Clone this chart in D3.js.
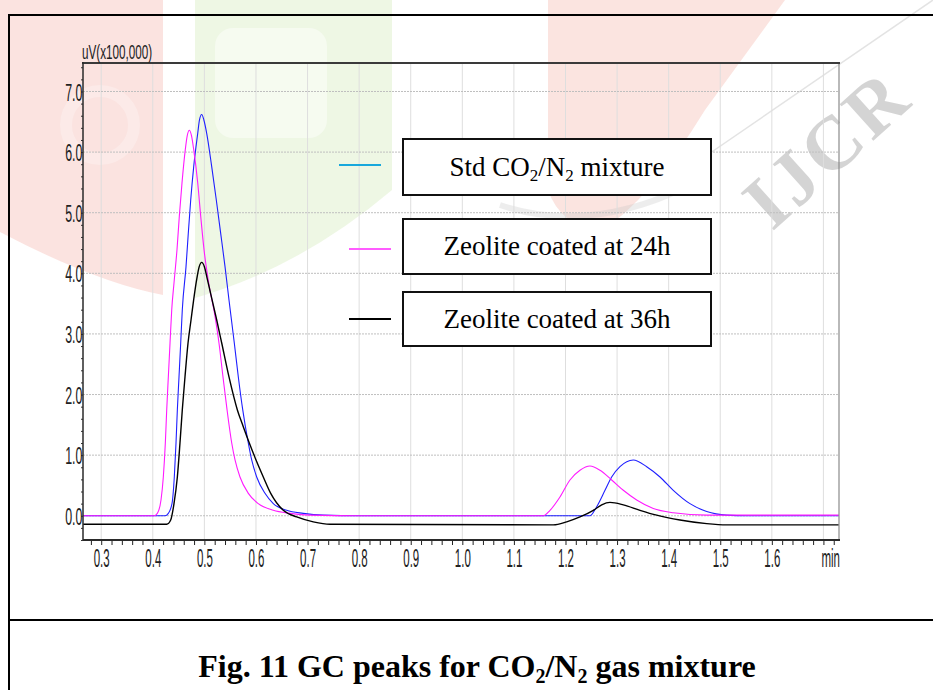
<!DOCTYPE html>
<html>
<head>
<meta charset="utf-8">
<script src="https://cdn.jsdelivr.net/npm/d3@7"></script>
<style>
  html, body { margin: 0; padding: 0; background: #fff; }
  svg { display: block; }
</style>
</head>
<body>
<svg id="chart" width="933" height="690"></svg>
<script>
// ---- Chromatogram data: retention time (min) vs detector signal (uV x100,000) ----
const stdTime   = [0.265, 0.4237, 0.4301, 0.4372, 0.4417, 0.4450, 0.4476, 0.4508, 0.4541, 0.4572,
                   0.4644, 0.4688, 0.4735, 0.4793, 0.4871, 0.4905, 0.4948, 0.4990, 0.5045, 0.5142,
                   0.5231, 0.5316, 0.5400, 0.5477, 0.5580, 0.5658, 0.5743, 0.5851, 0.5917, 0.6014,
                   0.6175, 0.6336, 0.6596, 0.6918, 0.7305, 0.800, 1.2475, 1.2605, 1.2766, 1.2895,
                   1.3056, 1.3314, 1.3574, 1.3832, 1.4090, 1.4413, 1.4737, 1.5125, 1.5512, 1.730];
const stdSignal = [0, 0, 0.04, 0.20, 0.64, 1.20, 1.75, 2.29, 2.85, 3.40,
                   4.11, 4.66, 5.21, 5.76, 6.31, 6.53, 6.62, 6.53, 6.31, 5.76,
                   5.21, 4.66, 4.11, 3.56, 2.85, 2.29, 1.75, 1.20, 0.92, 0.64,
                   0.37, 0.20, 0.09, 0.04, 0.01, 0, 0, 0.15, 0.42, 0.64,
                   0.81, 0.92, 0.81, 0.64, 0.42, 0.20, 0.07, 0.01, 0, 0];

const zeo24Time   = [0.265, 0.4023, 0.4088, 0.4159, 0.4204, 0.4243, 0.4270, 0.4301, 0.4334, 0.4367,
                     0.4411, 0.4469, 0.4514, 0.4566, 0.4630, 0.4668, 0.4708, 0.4750, 0.4793, 0.4871,
                     0.4929, 0.4993, 0.5084, 0.5202, 0.5283, 0.5361, 0.5439, 0.5530, 0.5594, 0.5690,
                     0.5852, 0.6045, 0.6336, 0.6660, 0.7047, 0.800, 1.1570, 1.1700, 1.1893, 1.2087,
                     1.2281, 1.2475, 1.2670, 1.2895, 1.3121, 1.3380, 1.3702, 1.4090, 1.4737, 1.730];
const zeo24Signal = [0, 0, 0.04, 0.26, 0.64, 1.20, 1.75, 2.29, 2.85, 3.40,
                     3.84, 4.39, 4.94, 5.49, 6.04, 6.27, 6.36, 6.27, 6.04, 5.49,
                     4.94, 4.39, 3.84, 3.31, 2.85, 2.29, 1.75, 1.20, 0.92, 0.64,
                     0.37, 0.20, 0.09, 0.04, 0.01, 0, 0, 0.09, 0.31, 0.59,
                     0.75, 0.82, 0.75, 0.59, 0.42, 0.26, 0.12, 0.05, 0.01, 0.01];

const zeo36Time   = [0.265, 0.4270, 0.4347, 0.4411, 0.4476, 0.4527, 0.4572, 0.4624, 0.4683, 0.4741,
                     0.4790, 0.4851, 0.4900, 0.4948, 0.5000, 0.5058, 0.5239, 0.5336, 0.5477, 0.5638,
                     0.5754, 0.5871, 0.6001, 0.6142, 0.6286, 0.6530, 0.6790, 0.7111, 0.7435, 1.1764,
                     1.2023, 1.2281, 1.2539, 1.2702, 1.2862, 1.3121, 1.3444, 1.3768, 1.4219, 1.4737,
                     1.5125, 1.730];
const zeo36Signal = [-0.14, -0.14, -0.07, 0.20, 0.64, 1.20, 1.75, 2.29, 2.85, 3.23,
                     3.55, 3.90, 4.11, 4.18, 4.11, 3.90, 3.23, 2.85, 2.29, 1.75,
                     1.47, 1.20, 0.92, 0.64, 0.37, 0.09, -0.02, -0.10, -0.14, -0.15,
                     -0.10, -0.02, 0.09, 0.18, 0.22, 0.18, 0.09, 0.01, -0.07, -0.13,
                     -0.15, -0.15];

const seriesNames = ["Std CO2/N2 mixture", "Zeolite coated at 24h", "Zeolite coated at 36h"];
const xTickValues = [0.3, 0.4, 0.5, 0.6, 0.7, 0.8, 0.9, 1.0, 1.1, 1.2, 1.3, 1.4, 1.5, 1.6];
const yTickValues = [0, 1, 2, 3, 4, 5, 6, 7];
const xUnitLabel = "min";
const yUnitLabel = "uV(x100,000)";
const captionText = "Fig. 11 GC peaks for CO2/N2 gas mixture";

// ---- Layout & style ----
const plot = { left: 83, right: 839, top: 63, bottom: 540 };
const curveColors  = ["#1f1fff", "#ff1aff", "#000000"];
const swatchColors = ["#18a8dc", "#ff5cff", "#000000"];
const sansFont = "'Liberation Sans', Arial, sans-serif";
const serifFont = "'Liberation Serif', 'Times New Roman', serif";

const svg = d3.select("#chart");

// ---- Faint journal watermark behind the figure ----
const wm = svg.append("g").attr("class", "watermark");
wm.append("path").attr("d", "M0,0 H163 V295 Q95,282 0,232 Z").attr("fill", "#f9d0cc").attr("opacity", 0.6);
wm.append("circle").attr("cx", 100).attr("cy", 125).attr("r", 34)
  .attr("fill", "none").attr("stroke", "#fff").attr("stroke-width", 12).attr("opacity", 0.25);
wm.append("path").attr("d", "M195,0 H392 V190 Q300,268 195,298 Z").attr("fill", "#e2f2d2").attr("opacity", 0.6);
wm.append("rect").attr("x", 215).attr("y", 28).attr("width", 112).attr("height", 110).attr("rx", 18)
  .attr("fill", "#fff").attr("opacity", 0.45);
wm.append("path").attr("d", "M548,0 H785 L705,110 Q650,200 600,232 Q560,225 548,190 Z").attr("fill", "#f9d2cb").attr("opacity", 0.6);
wm.append("path").attr("d", "M500,205 Q590,235 690,185")
  .attr("fill", "none").attr("stroke", "#c4c4c4").attr("stroke-width", 6).attr("opacity", 0.3);
wm.append("path").attr("d", "M700,160 L933,0")
  .attr("fill", "none").attr("stroke", "#b8b8b8").attr("stroke-width", 1.5).attr("opacity", 0.4);
wm.append("text").attr("transform", "translate(772,232) rotate(-42)")
  .attr("font-family", serifFont).attr("font-weight", "bold").attr("font-size", 76)
  .attr("letter-spacing", 4).attr("fill", "#ababab").attr("opacity", 0.5).text("IJCR");

// ---- Scales ----
const x = d3.scaleLinear().domain([0.2647, 1.7302]).range([plot.left, plot.right]);
const y = d3.scaleLinear().domain([-0.4, 7.47]).range([plot.bottom, plot.top]);

// ---- Grid ----
const gridX = d3.range(3, 18).map(v => v / 10);
svg.append("g").selectAll("line").data(gridX).join("line")
  .attr("x1", d => x(d)).attr("x2", d => x(d))
  .attr("y1", plot.top).attr("y2", plot.bottom)
  .attr("stroke", "#dedede").attr("stroke-width", 1);
svg.append("g").selectAll("line").data(yTickValues).join("line")
  .attr("x1", plot.left).attr("x2", plot.right)
  .attr("y1", d => y(d)).attr("y2", d => y(d))
  .attr("stroke", "#bfbfbf").attr("stroke-width", 1).attr("stroke-dasharray", "2,1");

// ---- Traces ----
const series = [
  { name: seriesNames[0], t: stdTime,   v: stdSignal },
  { name: seriesNames[1], t: zeo24Time, v: zeo24Signal },
  { name: seriesNames[2], t: zeo36Time, v: zeo36Signal }
];
const line = d3.line().x(d => x(d[0])).y(d => y(d[1])).curve(d3.curveMonotoneX);
svg.append("clipPath").attr("id", "plotclip").append("rect")
  .attr("x", plot.left).attr("y", plot.top)
  .attr("width", plot.right - plot.left).attr("height", plot.bottom - plot.top);
svg.append("g").attr("clip-path", "url(#plotclip)")
  .selectAll("path").data(series).join("path")
  .attr("d", s => line(d3.zip(s.t, s.v)))
  .attr("fill", "none")
  .attr("stroke", (s, i) => curveColors[i])
  .attr("stroke-width", (s, i) => i === 2 ? 1.4 : 1.1);

// ---- Frame ----
svg.append("line").attr("x1", plot.right).attr("x2", plot.right).attr("y1", plot.top).attr("y2", plot.bottom)
  .attr("stroke", "#8a8a8a").attr("stroke-width", 1.2);
svg.append("line").attr("x1", plot.left - 1).attr("x2", plot.right + 1).attr("y1", plot.top).attr("y2", plot.top)
  .attr("stroke", "#3a3a3a").attr("stroke-width", 2);

// ---- X axis ----
const minorX = d3.range(14, 87).map(v => v / 50);
const xMinor = svg.append("g").attr("transform", `translate(0,${plot.bottom})`)
  .call(d3.axisBottom(x).tickValues(minorX).tickSize(5).tickFormat(""));
xMinor.select(".domain").remove();
xMinor.selectAll("line").attr("stroke", "#222").attr("stroke-width", 1);

const xAxis = svg.append("g").attr("transform", `translate(0,${plot.bottom})`)
  .call(d3.axisBottom(x).tickValues(xTickValues).tickSize(0).tickPadding(0).tickFormat(d3.format(".1f")));
xAxis.select(".domain").remove();
xAxis.selectAll("text")
  .attr("y", 27).attr("dy", null)
  .attr("font-family", sansFont).attr("font-size", 25).attr("fill", "#222")
  .attr("transform", "scale(0.46,1)");
svg.append("line").attr("x1", plot.left).attr("x2", plot.right + 1).attr("y1", plot.bottom).attr("y2", plot.bottom)
  .attr("stroke", "#2a2a2a").attr("stroke-width", 2);
svg.append("text").attr("transform", `translate(${plot.right + 1},${plot.bottom + 27}) scale(0.46,1)`)
  .attr("text-anchor", "end").attr("font-family", sansFont).attr("font-size", 25).attr("fill", "#222")
  .text(xUnitLabel);

// ---- Y axis ----
const minorY = d3.range(-2, 38).map(v => v / 5);
const yMinor = svg.append("g").attr("transform", `translate(${plot.left},0)`)
  .call(d3.axisLeft(y).tickValues(minorY).tickSize(2).tickFormat(""));
yMinor.select(".domain").remove();
yMinor.selectAll("line").attr("stroke", "#333");

const yAxis = svg.append("g").attr("transform", `translate(${plot.left},0)`)
  .call(d3.axisLeft(y).tickValues(yTickValues).tickSize(0).tickPadding(1).tickFormat(d3.format(".1f")));
yAxis.select(".domain").remove();
yAxis.selectAll("text")
  .attr("dy", null).attr("y", 8.5)
  .attr("font-family", sansFont).attr("font-size", 23).attr("fill", "#222")
  .attr("transform", "scale(0.54,1)");
svg.append("line").attr("x1", plot.left).attr("x2", plot.left).attr("y1", plot.top - 1).attr("y2", plot.bottom)
  .attr("stroke", "#2a2a2a").attr("stroke-width", 1.5);
svg.append("text").attr("transform", `translate(${plot.left - 1},58.5) scale(0.6,1)`)
  .attr("font-family", sansFont).attr("font-size", 19.5).attr("fill", "#222")
  .text(yUnitLabel);

// ---- Formula-aware text: the "2" in CO2 / N2 is set as a subscript ----
function chemText(sel, label, size, subSize) {
  const shift = Math.round(size * 0.2);
  let pending = 0;
  label.split(/(CO2|N2)/).filter(p => p.length).forEach(p => {
    if (p === "CO2" || p === "N2") {
      sel.append("tspan").attr("dy", pending || null).text(p.slice(0, -1));
      sel.append("tspan").attr("font-size", subSize).attr("dy", shift).text("2");
      pending = -shift;
    } else {
      sel.append("tspan").attr("dy", pending || null).text(p);
      pending = 0;
    }
  });
}

// ---- Legend ----
const legendBoxes = [
  { y0: 139, y1: 195, swX: [339, 381], swY: 165 },
  { y0: 219, y1: 274, swX: [349, 391], swY: 249 },
  { y0: 292, y1: 346, swX: [349, 391], swY: 319 }
];
const legend = svg.append("g");
series.forEach((s, i) => {
  const b = legendBoxes[i];
  legend.append("line").attr("x1", b.swX[0]).attr("x2", b.swX[1]).attr("y1", b.swY).attr("y2", b.swY)
    .attr("stroke", swatchColors[i]).attr("stroke-width", 1.8);
  legend.append("rect").attr("x", 403).attr("y", b.y0).attr("width", 308).attr("height", b.y1 - b.y0)
    .attr("fill", "#fff").attr("stroke", "#111").attr("stroke-width", 2);
  const t = legend.append("text").attr("x", 557).attr("y", (b.y0 + b.y1) / 2 + 8.5)
    .attr("text-anchor", "middle").attr("font-family", serifFont).attr("font-size", 27).attr("fill", "#000");
  chemText(t, s.name, 27, 17);
});

// ---- Figure border and caption ----
svg.append("line").attr("x1", 9).attr("x2", 933).attr("y1", 15).attr("y2", 15).attr("stroke", "#000").attr("stroke-width", 2);
svg.append("line").attr("x1", 9).attr("x2", 9).attr("y1", 14).attr("y2", 690).attr("stroke", "#000").attr("stroke-width", 2);
svg.append("line").attr("x1", 9).attr("x2", 933).attr("y1", 620).attr("y2", 620).attr("stroke", "#000").attr("stroke-width", 2);
const cap = svg.append("text").attr("x", 477).attr("y", 677).attr("text-anchor", "middle")
  .attr("font-family", serifFont).attr("font-weight", "bold").attr("font-size", 32).attr("fill", "#000");
chemText(cap, captionText, 32, 20);
</script>
</body>
</html>
